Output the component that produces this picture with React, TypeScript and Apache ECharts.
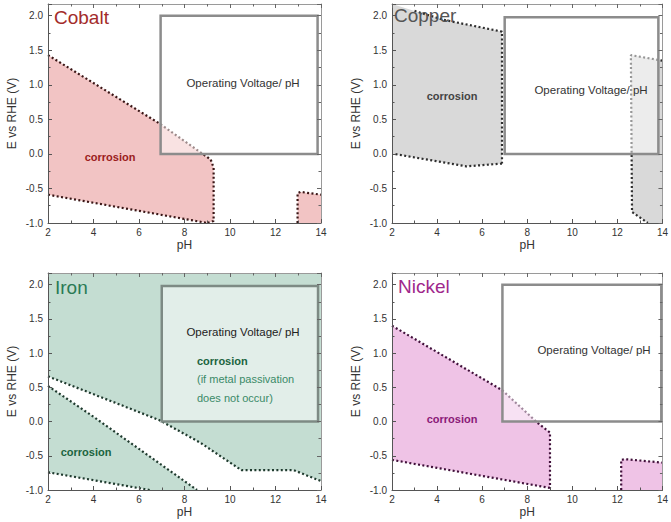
import React, { useEffect, useRef } from 'react';
import * as echarts from 'echarts';

const X_MIN = 2;
const X_MAX = 14;
const Y_MIN = -1;
const Y_MAX = 2.17;

// ---- Cobalt ----
const cobaltUpper = [[2, 1.43], [6.9, 0.44], [8.8, 0.0], [9.15, -0.08], [9.28, -0.2], [9.28, -0.97], [9.0, -1.0]];
const cobaltLower = [[2, -0.59], [9.0, -1.0]];
const cobaltSmall = [[12.97, -1.0], [12.97, -0.57], [13.1, -0.55], [14, -0.59]];
const cobaltBox = [6.95, 0, 13.85, 2.0];

// ---- Copper ----
const copperTopEdge = [[2, 2.17], [4.3, 1.94]];
const copperUpper = [[3.0, 2.07], [4.3, 1.94], [6.88, 1.77], [6.88, -0.14]];
const copperLower = [[6.88, -0.14], [5.3, -0.18], [2.1, 0.0], [2, 0.0]];
const copperRight = [[14, 1.35], [12.6, 1.43], [12.65, -0.84], [13.35, -1.0]];
const copperBox = [7.0, 0, 13.82, 1.98];

// ---- Iron ----
const ironUpper = [[2, 0.66], [6.9, 0.02], [8.7, -0.31], [10.5, -0.71], [12.8, -0.71], [14, -0.87]];
const ironMiddle = [[2, 0.52], [4, 0.07], [6, -0.4], [8.55, -1.0]];
const ironLower = [[2, -0.74], [6.47, -1.0]];
const ironBox = [7.0, 0, 13.87, 1.98];

// ---- Nickel ----
const nickelUpper = [[2, 1.4], [6.88, 0.46], [8.5, -0.03], [9.01, -0.16], [9.01, -0.97]];
const nickelLower = [[2, -0.56], [9.01, -0.97]];
const nickelSmall = [[12.17, -1.0], [12.17, -0.56], [12.35, -0.55], [14, -0.6]];
const nickelBox = [6.9, 0, 13.95, 2.0];

const FONT = '"Liberation Sans", Arial, sans-serif';

type Pt = number[];
const rev = (a: Pt[]) => a.slice().reverse();

const panels = [
  {
    grid: { left: 48, top: 4, width: 273, height: 219 },
    fills: [
      { pts: [...cobaltUpper, ...rev(cobaltLower)], color: '#f2c4c4' },
      { pts: [...cobaltSmall, [14, -1.0]], color: '#f2c4c4' },
    ],
    lines: [cobaltUpper, cobaltLower, cobaltSmall],
    dot: '#3a1616',
    box: cobaltBox,
    boxStroke: '#8c8c8c',
  },
  {
    grid: { left: 392, top: 4, width: 273, height: 219 },
    fills: [
      { pts: [...copperTopEdge, ...copperUpper.slice(2), ...copperLower], color: '#d9d9d9' },
      { pts: [...copperRight, [14, -1.0]], color: '#d9d9d9' },
    ],
    lines: [copperUpper, copperLower.slice(0, 3), copperRight],
    dot: '#2e2e2e',
    box: copperBox,
    boxStroke: '#8c8c8c',
  },
  {
    grid: { left: 48, top: 273, width: 273, height: 217 },
    fills: [
      { pts: [[2, Y_MAX], [14, Y_MAX], ...rev(ironUpper)], color: '#c4ddd2' },
      { pts: [...ironMiddle, ...rev(ironLower)], color: '#c4ddd2' },
    ],
    lines: [ironUpper, ironMiddle, ironLower],
    dot: '#1f3a2e',
    box: ironBox,
    boxStroke: '#7d8a84',
  },
  {
    grid: { left: 392, top: 273, width: 273, height: 217 },
    fills: [
      { pts: [...nickelUpper, ...rev(nickelLower)], color: '#efc3e6' },
      { pts: [...nickelSmall, [14, -1.0]], color: '#efc3e6' },
    ],
    lines: [nickelUpper, nickelLower, nickelSmall],
    dot: '#40103a',
    box: nickelBox,
    boxStroke: '#8c8c8c',
  },
];

function buildOption() {
  const grids: any[] = [];
  const xAxes: any[] = [];
  const yAxes: any[] = [];
  const series: any[] = [];

  panels.forEach((p, g) => {
    grids.push({ ...p.grid, containLabel: false });
    const common = {
      type: 'value',
      gridIndex: g,
      splitLine: { show: false },
      z: 10,
    };
    xAxes.push({
      ...common,
      min: X_MIN,
      max: X_MAX,
      interval: 2,
      position: 'bottom',
      axisLine: { show: true, onZero: false, lineStyle: { color: '#555', width: 1 } },
      axisTick: { show: true, inside: true, length: 4, lineStyle: { color: '#555' } },
      minorTick: { show: true, splitNumber: 2, length: 2.5, lineStyle: { color: '#555' } },
      axisLabel: { show: true, fontSize: 10, color: '#333', margin: 4, fontFamily: FONT },
      name: 'pH',
      nameLocation: 'middle',
      nameGap: 16,
      nameTextStyle: { fontSize: 12, color: '#333', fontFamily: FONT },
    });
    xAxes.push({
      ...common,
      min: X_MIN,
      max: X_MAX,
      interval: 2,
      position: 'top',
      axisLine: { show: true, onZero: false, lineStyle: { color: '#9a9a9a', width: 1 } },
      axisTick: { show: true, inside: true, length: 4, lineStyle: { color: '#666' } },
      minorTick: { show: true, splitNumber: 2, length: 2.5, lineStyle: { color: '#666' } },
      axisLabel: { show: false },
    });
    yAxes.push({
      ...common,
      min: Y_MIN,
      max: Y_MAX,
      interval: 0.5,
      position: 'left',
      axisLine: { show: true, onZero: false, lineStyle: { color: '#555', width: 1 } },
      axisTick: { show: true, inside: true, length: 4, lineStyle: { color: '#555' } },
      minorTick: { show: true, splitNumber: 2, length: 2.5, lineStyle: { color: '#555' } },
      axisLabel: {
        show: true,
        fontSize: 10,
        color: '#333',
        margin: 5,
        fontFamily: FONT,
        formatter: (v: number) => (Math.abs(v * 2 - Math.round(v * 2)) < 1e-6 ? v.toFixed(1) : ''),
      },
      name: 'E vs RHE (V)',
      nameLocation: 'middle',
      nameGap: 30,
      nameTextStyle: { fontSize: 12, color: '#333', fontFamily: FONT },
    });
    yAxes.push({
      ...common,
      min: Y_MIN,
      max: Y_MAX,
      interval: 0.5,
      position: 'right',
      axisLine: { show: true, onZero: false, lineStyle: { color: '#9a9a9a', width: 1 } },
      axisTick: { show: true, inside: true, length: 4, lineStyle: { color: '#666' } },
      minorTick: { show: true, splitNumber: 2, length: 2.5, lineStyle: { color: '#666' } },
      axisLabel: { show: false },
    });

    const xi = g * 2;
    const yi = g * 2;

    p.fills.forEach((f) => {
      const pts = f.pts;
      series.push({
        type: 'custom',
        xAxisIndex: xi,
        yAxisIndex: yi,
        silent: true,
        z: 1,
        data: [pts[0]],
        renderItem: (_params: any, api: any) => ({
          type: 'polygon',
          shape: { points: pts.map((q) => api.coord(q)) },
          style: { fill: f.color, stroke: null },
        }),
      });
    });

    p.lines.forEach((l) => {
      series.push({
        type: 'line',
        xAxisIndex: xi,
        yAxisIndex: yi,
        silent: true,
        z: 2,
        showSymbol: false,
        symbol: 'none',
        data: l,
        lineStyle: { color: p.dot, width: 2.2, type: [2, 2.4], cap: 'butt' },
      });
    });

    const b = p.box;
    series.push({
      type: 'custom',
      xAxisIndex: xi,
      yAxisIndex: yi,
      silent: true,
      z: 3,
      data: [[b[0], b[1]]],
      renderItem: (_params: any, api: any) => {
        const p0 = api.coord([b[0], b[3]]);
        const p1 = api.coord([b[2], b[1]]);
        return {
          type: 'rect',
          shape: { x: p0[0], y: p0[1], width: p1[0] - p0[0], height: p1[1] - p0[1] },
          style: { fill: 'rgba(255,255,255,0.5)', stroke: p.boxStroke, lineWidth: 2.5 },
        };
      },
    });
  });

  const t = (text: string, x: number, y: number, size: number, color: string, opts: any = {}) => ({
    type: 'text',
    x,
    y,
    z: 20,
    style: {
      text,
      fontSize: size,
      fill: color,
      fontFamily: FONT,
      textAlign: opts.align || 'left',
      textVerticalAlign: 'middle',
      fontWeight: opts.bold ? 'bold' : 'normal',
    },
  });

  const graphic = [
    t('Cobalt', 54, 17.5, 19, '#a32b2b'),
    t('Copper', 394, 15, 19, '#555555'),
    t('Iron', 55, 287, 19, '#2a7a55'),
    t('Nickel', 398, 286, 19, '#a0288c'),
    t('corrosion', 110, 157, 11, '#9b1c1c', { align: 'center', bold: true }),
    t('Operating Voltage/ pH', 243, 83, 11.5, '#333', { align: 'center' }),
    t('corrosion', 452, 96, 11, '#444', { align: 'center', bold: true }),
    t('Operating Voltage/ pH', 591, 90, 11.5, '#333', { align: 'center' }),
    t('Operating Voltage/ pH', 243, 332, 11.5, '#222', { align: 'center' }),
    t('corrosion', 197, 361, 11, '#1b6440', { bold: true }),
    t('(if metal passivation', 197, 379, 11, '#3a8a68'),
    t('does not occur)', 197, 398, 11, '#3a8a68'),
    t('corrosion', 86, 452, 11, '#1b6440', { align: 'center', bold: true }),
    t('corrosion', 452, 419, 11, '#8a1a78', { align: 'center', bold: true }),
    t('Operating Voltage/ pH', 594, 350, 11.5, '#333', { align: 'center' }),
  ];

  return {
    animation: false,
    backgroundColor: '#ffffff',
    grid: grids,
    xAxis: xAxes,
    yAxis: yAxes,
    series,
    graphic,
  };
}

export default function App() {
  const ref = useRef<HTMLDivElement>(null);
  useEffect(() => {
    document.body.style.margin = '0';
    if (!ref.current) return;
    const chart = echarts.init(ref.current, null, { renderer: 'svg' });
    chart.setOption(buildOption() as any);
    return () => chart.dispose();
  }, []);
  return <div ref={ref} style={{ width: 671, height: 522 }} />;
}
